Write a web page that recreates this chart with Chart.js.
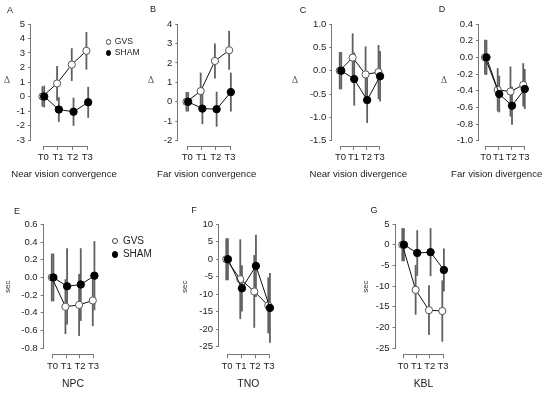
<!DOCTYPE html>
<html>
<head>
<meta charset="utf-8">
<script src="https://cdn.jsdelivr.net/npm/chart.js@4.4.1/dist/chart.umd.min.js"></script>
<style>
  body { margin: 0; background: #fff; }
  #wrap { position: relative; width: 550px; height: 395px; overflow: hidden; font-family: "Liberation Sans", Arial, sans-serif; color: #222; }
  #wrap canvas { position: absolute; }
  .t { position: absolute; white-space: nowrap; line-height: 1; transform: translate(-50%, -50%); }
  .letter { font-size: 9px; color: #222; }
  .cap { font-size: 9.6px; color: #222; }
  .cap2 { font-size: 10.4px; color: #222; }
  .delta { font-family: "DejaVu Serif", "Liberation Serif", serif; font-size: 9px; color: #4f5f80; }
  .leg { position: absolute; white-space: nowrap; line-height: 1; }
  .leg i { display: inline-block; border-radius: 50%; box-sizing: border-box; vertical-align: middle; }
  .leg span { vertical-align: middle; }
</style>
</head>
<body>
<div id="wrap"></div>
<script>
var timeLabels = ["T0", "T1", "T2", "T3"];

// A  Near vision convergence
var nvcTicks = [-3, -2, -1, 0, 1, 2, 3, 4, 5];
var nvcGvs = [0, 0.9, 2.2, 3.15];
var nvcGvsErr = [0.7, 1.2, 1.13, 1.3];
var nvcSham = [0, -0.9, -1.05, -0.4];
var nvcShamErr = [0.75, 0.85, 0.97, 1.07];

// B  Far vision convergence
var fvcTicks = [-2, -1, 0, 1, 2, 3, 4];
var fvcGvs = [0, 0.55, 2.1, 2.65];
var fvcGvsErr = [0.5, 0.95, 0.9, 1.0];
var fvcSham = [0, -0.35, -0.38, 0.5];
var fvcShamErr = [0.5, 0.8, 0.9, 1.0];

// C  Near vision divergence
var nvdTicks = [-1.5, -1.0, -0.5, 0.0, 0.5, 1.0];
var nvdGvs = [0, 0.28, -0.08, -0.03];
var nvdGvsErr = [0.4, 0.52, 0.6, 0.58];
var nvdSham = [0, -0.18, -0.63, -0.12];
var nvdShamErr = [0.4, 0.57, 0.49, 0.54];

// D  Far vision divergence
var fvdTicks = [-1.0, -0.8, -0.6, -0.4, -0.2, 0.0, 0.2, 0.4];
var fvdGvs = [0, -0.39, -0.41, -0.33];
var fvdGvsErr = [0.21, 0.26, 0.3, 0.26];
var fvdSham = [0, -0.44, -0.58, -0.38];
var fvdShamErr = [0.21, 0.22, 0.23, 0.24];

// E  NPC
var npcTicks = [-0.8, -0.6, -0.4, -0.2, 0.0, 0.2, 0.4, 0.6];
var npcGvs = [0, -0.33, -0.31, -0.26];
var npcGvsErr = [0.27, 0.31, 0.35, 0.29];
var npcSham = [0, -0.1, -0.08, 0.02];
var npcShamErr = [0.27, 0.43, 0.41, 0.39];

// F  TNO
var tnoTicks = [-25, -20, -15, -10, -5, 0, 5, 10];
var tnoGvs = [0, -5.7, -9.2, -13.2];
var tnoGvsErr = [6, 11.4, 10.4, 8];
var tnoSham = [0, -8.3, -1.9, -13.9];
var tnoShamErr = [6, 6.6, 8.9, 10];

// G  KBL
var kblTicks = [-25, -20, -15, -10, -5, 0, 5];
var kblGvs = [0, -10.9, -15.8, -16];
var kblGvsErr = [4, 6, 6, 7.4];
var kblSham = [0, -2, -1.8, -6.1];
var kblShamErr = [4, 5.5, 5.8, 5.2];

var panels = [
  { ticks: nvcTicks, dec: 0, gvs: nvcGvs, gvsErr: nvcGvsErr, sham: nvcSham, shamErr: nvcShamErr,
    box: { axisX: 31, yTop: 24, yBot: 140, x0: 43.3, x3: 87.3, axisY: 146 } },
  { ticks: fvcTicks, dec: 0, gvs: fvcGvs, gvsErr: fvcGvsErr, sham: fvcSham, shamErr: fvcShamErr,
    box: { axisX: 178.3, yTop: 24, yBot: 140.7, x0: 187.3, x3: 230, axisY: 146 } },
  { ticks: nvdTicks, dec: 1, gvs: nvdGvs, gvsErr: nvdGvsErr, sham: nvdSham, shamErr: nvdShamErr,
    box: { axisX: 332.3, yTop: 24, yBot: 140.7, x0: 340.5, x3: 379.3, axisY: 146 } },
  { ticks: fvdTicks, dec: 1, gvs: fvdGvs, gvsErr: fvdGvsErr, sham: fvdSham, shamErr: fvdShamErr,
    box: { axisX: 479, yTop: 24, yBot: 140.7, x0: 485.7, x3: 524, axisY: 146 } },
  { ticks: npcTicks, dec: 1, gvs: npcGvs, gvsErr: npcGvsErr, sham: npcSham, shamErr: npcShamErr, yTitle: 'sec',
    box: { axisX: 43.3, yTop: 224.3, yBot: 348.3, x0: 52.3, x3: 93.3, axisY: 354.3, titleX: 7.5 } },
  { ticks: tnoTicks, dec: 0, gvs: tnoGvs, gvsErr: tnoGvsErr, sham: tnoSham, shamErr: tnoShamErr, yTitle: 'sec',
    box: { axisX: 219.3, yTop: 224.3, yBot: 346.7, x0: 227.3, x3: 269.3, axisY: 354.3, titleX: 185 } },
  { ticks: kblTicks, dec: 0, gvs: kblGvs, gvsErr: kblGvsErr, sham: kblSham, shamErr: kblShamErr, yTitle: 'sec',
    box: { axisX: 395.7, yTop: 224, yBot: 348.3, x0: 403.3, x3: 443.3, axisY: 354.3, titleX: 366 } }
];

var dodge = 0.06;
var fontFam = "'Liberation Sans', Arial, sans-serif";

// R-style axes (line only between end ticks) and error bars
var rStyle = {
  id: 'rStyle',
  beforeDatasetsDraw: function (chart) {
    var ctx = chart.ctx, xs = chart.scales.x, ys = chart.scales.y, a = chart.chartArea;
    ctx.save();
    ctx.strokeStyle = '#777';
    ctx.lineWidth = 1;
    ctx.beginPath();
    var px = Math.round(a.left) - 0.5;
    ctx.moveTo(px, ys.getPixelForValue(ys.ticks[0].value));
    ctx.lineTo(px, ys.getPixelForValue(ys.ticks[ys.ticks.length - 1].value));
    var py = Math.round(a.bottom) + 0.5;
    ctx.moveTo(xs.getPixelForValue(xs.ticks[0].value), py);
    ctx.lineTo(xs.getPixelForValue(xs.ticks[xs.ticks.length - 1].value), py);
    ctx.stroke();

    ctx.strokeStyle = '#606060';
    ctx.lineWidth = 1.8;
    chart.data.datasets.forEach(function (ds) {
      ds.data.forEach(function (p, i) {
        var e = ds.errors[i];
        var xp = xs.getPixelForValue(p.x);
        ctx.beginPath();
        ctx.moveTo(xp, ys.getPixelForValue(p.y + e));
        ctx.lineTo(xp, ys.getPixelForValue(p.y - e));
        ctx.stroke();
      });
    });
    ctx.restore();
  }
};

var wrap = document.getElementById('wrap');
var secSize = 8;

panels.forEach(function (p) {
  var L = p.box;
  var yMinT = p.ticks[0], yMaxT = p.ticks[p.ticks.length - 1];
  var pxY = (L.yBot - L.yTop) / (yMaxT - yMinT);
  var chartTop = L.yTop - 5;
  var ymax = yMaxT + (L.yTop - chartTop) / pxY;
  var ymin = yMinT - (L.axisY - L.yBot) / pxY;
  var pxX = (L.x3 - L.x0) / 3;
  var chartRight = L.x3 + 10;
  var xmin = -(L.x0 - L.axisX) / pxX;
  var xmax = 3 + (chartRight - L.x3) / pxX;

  var left = p.yTitle ? L.titleX - secSize * 0.6 : Math.floor(L.axisX - 30);
  var top = Math.floor(chartTop - 10);
  var wY = L.axisX - left, padTop = chartTop - top, hX = 22;
  var cw = Math.ceil(chartRight + 8 - left), ch = Math.ceil(L.axisY + hX + 2 - top);
  var padRight = cw - (chartRight - left);
  var padBottom = ch - (L.axisY + hX - top);

  var cv = document.createElement('canvas');
  cv.width = cw; cv.height = ch;
  cv.style.left = left + 'px'; cv.style.top = top + 'px';
  wrap.appendChild(cv);

  new Chart(cv.getContext('2d'), {
    type: 'line',
    data: {
      datasets: [{
        label: 'GVS',
        data: p.gvs.map(function (v, i) { return { x: i - dodge, y: v }; }),
        errors: p.gvsErr,
        order: 2,
        borderColor: '#111', borderWidth: 1, tension: 0, fill: false,
        pointRadius: 3.6, pointBackgroundColor: '#fff', pointBorderColor: '#555', pointBorderWidth: 1
      }, {
        label: 'SHAM',
        data: p.sham.map(function (v, i) { return { x: i + dodge, y: v }; }),
        errors: p.shamErr,
        order: 1,
        borderColor: '#111', borderWidth: 1, tension: 0, fill: false,
        pointRadius: 3.7, pointBackgroundColor: '#000', pointBorderColor: '#000', pointBorderWidth: 1
      }]
    },
    options: {
      responsive: false,
      animation: false,
      devicePixelRatio: 1,
      layout: { autoPadding: false, padding: { top: padTop, right: padRight, bottom: padBottom, left: 0 } },
      plugins: { legend: { display: false }, tooltip: { enabled: false } },
      scales: {
        x: {
          type: 'linear', min: xmin, max: xmax,
          afterBuildTicks: function (ax) { ax.ticks = timeLabels.map(function (t, i) { return { value: i }; }); },
          afterFit: function (ax) { ax.height = hX; },
          ticks: {
            autoSkip: false, maxRotation: 0, padding: 2, color: '#222',
            font: { family: fontFam, size: 9.5 },
            callback: function (v) { return timeLabels[v]; }
          },
          grid: { drawOnChartArea: false, drawTicks: true, tickLength: 4, color: '#777' },
          border: { display: false }
        },
        y: {
          type: 'linear', min: ymin, max: ymax,
          afterBuildTicks: function (ax) { ax.ticks = p.ticks.map(function (v) { return { value: v }; }); },
          afterFit: function (ax) { ax.width = wY; },
          title: {
            display: !!p.yTitle, text: p.yTitle || '', color: '#333',
            font: { family: fontFam, size: secSize, lineHeight: 1.2 }, padding: 0
          },
          ticks: {
            padding: 3, color: '#222',
            font: { family: fontFam, size: 9.5 },
            callback: function (v) { return Number(v).toFixed(p.dec); }
          },
          grid: { drawOnChartArea: false, drawTicks: true, tickLength: 3, color: '#777' },
          border: { display: false }
        }
      }
    },
    plugins: [rStyle]
  });
});

// text layer: panel letters, Δ labels, captions, legends
function addText(cls, txt, x, y) {
  var d = document.createElement('div');
  d.className = 't ' + cls;
  d.textContent = txt;
  d.style.left = x + 'px'; d.style.top = y + 'px';
  wrap.appendChild(d);
}
var letters = [["A", 10, 10], ["B", 153, 9], ["C", 303, 10], ["D", 442, 9], ["E", 17, 211], ["F", 194, 210], ["G", 374, 210]];
letters.forEach(function (l) { addText('letter', l[0], l[1], l[2]); });
[[7, 80], [151, 80], [295, 80], [444, 80]].forEach(function (d) { addText('delta', 'Δ', d[0], d[1]); });
addText('cap', 'Near vision convergence', 64, 174);
addText('cap', 'Far vision convergence', 206.7, 174);
addText('cap', 'Near vision divergence', 358.3, 174);
addText('cap', 'Far vision divergence', 496.7, 174);
addText('cap2', 'NPC', 73, 384);
addText('cap2', 'TNO', 248.3, 384);
addText('cap2', 'KBL', 423.5, 384);

function addLegend(x, y, size, r, gap) {
  [['GVS', '#fff', '#444'], ['SHAM', '#000', '#000']].forEach(function (it, k) {
    var d = document.createElement('div');
    d.className = 'leg';
    d.style.left = (x - r) + 'px';
    d.style.top = (y + k * gap - size / 2) + 'px';
    d.style.fontSize = size + 'px';
    var dot = document.createElement('i');
    dot.style.width = (2 * r) + 'px'; dot.style.height = (2 * r) + 'px';
    dot.style.background = it[1]; dot.style.border = '1px solid ' + it[2];
    dot.style.marginRight = (size * 0.45) + 'px';
    var s = document.createElement('span');
    s.textContent = it[0];
    d.appendChild(dot); d.appendChild(s);
    wrap.appendChild(d);
  });
}
addLegend(108.3, 41.5, 8.6, 2.6, 11);
addLegend(115, 240.7, 10, 3.4, 13.3);
</script>
</body>
</html>
